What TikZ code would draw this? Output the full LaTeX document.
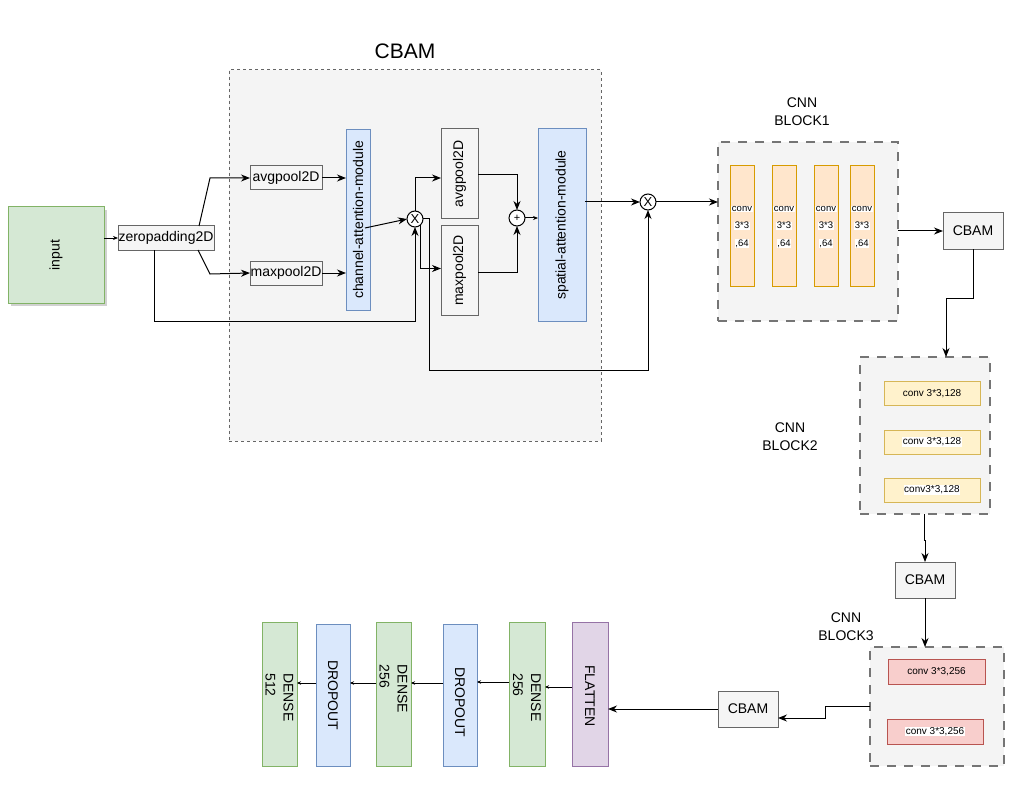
\documentclass[tikz,border=0pt]{standalone}
\usepackage{fontspec}
\setmainfont{Liberation Sans}
\usetikzlibrary{arrows.meta,calc,shadows}
\definecolor{gfill}{HTML}{D5E8D4}\definecolor{gline}{HTML}{82B366}
\definecolor{bfill}{HTML}{DAE8FC}\definecolor{bline}{HTML}{6C8EBF}
\definecolor{nfill}{HTML}{F5F5F5}\definecolor{nline}{HTML}{666666}
\definecolor{ofill}{HTML}{FFE6CC}\definecolor{oline}{HTML}{D79B00}
\definecolor{yfill}{HTML}{FFF2CC}\definecolor{yline}{HTML}{D6B656}
\definecolor{rfill}{HTML}{F8CECC}\definecolor{rline}{HTML}{B85450}
\definecolor{pfill}{HTML}{E1D5E7}\definecolor{pline}{HTML}{9673A6}
\definecolor{cfill}{HTML}{F4F4F4}
\newcommand{\wb}[1]{{\setlength{\fboxsep}{0.6pt}\colorbox{white}{#1}}}
\begin{document}
\begin{tikzpicture}[x=1pt,y=-1pt,
  every node/.style={inner sep=0pt,outer sep=0pt},
  gbox/.style={draw=nline,fill=nfill,line width=1pt},
  green/.style={draw=gline,fill=gfill,line width=1pt},
  blue/.style={draw=bline,fill=bfill,line width=1pt},
  orange/.style={draw=oline,fill=ofill,line width=1pt},
  yel/.style={draw=yline,fill=yfill,line width=1pt},
  red/.style={draw=rline,fill=rfill,line width=1pt},
  purple/.style={draw=pline,fill=pfill,line width=1pt},
  cont/.style={draw=nline,fill=cfill,line width=1pt,dash pattern=on 3pt off 3pt},
  bigcont/.style={draw=nline!90,fill=cfill,line width=1.3pt,dash pattern=on 9pt off 8pt},
  opcirc/.style={circle,draw,fill=white,line width=1pt,minimum size=16pt},
  lbl/.style={font=\fontsize{14}{16}\selectfont},
  big/.style={font=\fontsize{14}{18}\selectfont},
  edge/.style={line width=1pt,-{Stealth[length=9pt,width=7pt]}},
  sedge/.style={line width=1pt,-{Stealth[length=5pt,width=4pt]}},
  tedge/.style={line width=0.9pt,-{Stealth[length=4pt,width=3.5pt]}}]
\useasboundingbox (0,0) rectangle (1016,794);
% containers
\node[cont,minimum width=372pt,minimum height=371pt] (cbamc) at (415,255.5) {};
\node[font=\fontsize{21}{23}\selectfont] (cbamt) at (405,51) {CBAM};
\node[bigcont,minimum width=180pt,minimum height=179pt] (blk1) at (808,231.5) {};
\node[bigcont,minimum width=130pt,minimum height=157pt] (blk2) at (925,435.5) {};
\node[bigcont,minimum width=134pt,minimum height=119pt] (blk3) at (937,706.5) {};
\node[align=center,font=\fontsize{14}{18}\selectfont] (t1) at (802,112) {CNN\\BLOCK1};
\node[align=center,font=\fontsize{14}{18}\selectfont] (t2) at (790,437) {CNN\\BLOCK2};
\node[align=center,font=\fontsize{14}{18}\selectfont] (t3) at (846,627) {CNN\\BLOCK3};
% input part
\node[green,minimum width=96pt,minimum height=96pt,drop shadow={shadow xshift=3pt,shadow yshift=-3pt,fill=black!30,opacity=0.6}] (input) at (56,255) {};
\node[lbl,rotate=90] at (input) {input};
\node[gbox,minimum width=96pt,minimum height=24pt,lbl] (zp) at (166,238) {zeropadding2D};
\node[gbox,minimum width=72pt,minimum height=24pt,lbl] (avg1) at (286,178) {avgpool2D};
\node[gbox,minimum width=72pt,minimum height=24pt,lbl] (max1) at (286,273) {maxpool2D};
\node[blue,minimum width=24pt,minimum height=180pt] (cam) at (358,220) {};
\node[lbl,rotate=90] at (cam) {channel-attention-module};
\node[opcirc] (x1) at (415,219) {};
\node[font=\fontsize{13}{13}\selectfont] at (x1) {X};
\node[gbox,minimum width=37pt,minimum height=90pt] (avg2) at (459.5,174) {};
\node[lbl,rotate=90] at (avg2) {avgpool2D};
\node[gbox,minimum width=37pt,minimum height=89pt] (max2) at (459.5,270.5) {};
\node[lbl,rotate=90] at (max2) {maxpool2D};
\node[opcirc] (plus) at (517,218) {};
\node[font=\fontsize{11}{11}\selectfont] at (plus) {+};
\node[blue,minimum width=48pt,minimum height=192pt] (sam) at (562,225) {};
\node[lbl,rotate=90] at (sam) {spatial-attention-module};
\node[opcirc] (x2) at (648,202) {};
\node[font=\fontsize{13}{13}\selectfont] at (x2) {X};
% block 1
\foreach \n/\cx in {c1/742,c2/784,c3/826,c4/862}{
  \node[orange,minimum width=24pt,minimum height=120pt] (\n) at (\cx,226) {};
  \node[align=center,font=\fontsize{9.5}{17.5}\selectfont] at ([yshift=-1pt]\n.center) {\wb{conv}\\\wb{3*3}\\\wb{,64}};
}
\node[gbox,minimum width=60pt,minimum height=36pt,lbl] (cbam1) at (973,231) {CBAM};
% block 2
\node[yel,minimum width=96pt,minimum height=24pt,font=\fontsize{10}{12}\selectfont] (b2a) at (932,393.5) {conv 3*3,128};
\node[yel,minimum width=96pt,minimum height=24pt,font=\fontsize{10}{12}\selectfont] (b2b) at (932,442) {\wb{conv 3*3,128}};
\node[yel,minimum width=96pt,minimum height=24pt,font=\fontsize{10}{12}\selectfont] (b2c) at (932,490) {\wb{conv3*3,128}};
\node[gbox,minimum width=60pt,minimum height=36pt,lbl] (cbam2) at (925,580) {CBAM};
% block 3
\node[red,minimum width=97pt,minimum height=25pt,font=\fontsize{10}{12}\selectfont] (b3a) at (936.5,671.5) {conv 3*3,256};
\node[red,minimum width=96pt,minimum height=25pt,font=\fontsize{10}{12}\selectfont] (b3b) at (935,731.5) {\wb{conv 3*3,256}};
\node[gbox,minimum width=60pt,minimum height=36pt,lbl] (cbam3) at (748,709) {CBAM};
% dense chain
\node[purple,minimum width=36pt,minimum height=144pt] (flat) at (590,694) {};
\node[lbl,rotate=-90] at ([yshift=-2pt]flat.center) {FLATTEN};
\node[green,minimum width=36pt,minimum height=144pt] (d1) at (527,694) {};
\node[big,rotate=-90,align=left] at ([yshift=-3.5pt]d1.center) {DENSE\\256};
\node[blue,minimum width=34pt,minimum height=142pt] (do1) at (460,695) {};
\node[lbl,rotate=-90] at ([yshift=-7pt]do1.center) {DROPOUT};
\node[green,minimum width=35pt,minimum height=144pt] (d2) at (393.5,694) {};
\node[big,rotate=-90,align=left] at ([yshift=5pt]d2.center) {DENSE\\256};
\node[blue,minimum width=34pt,minimum height=142pt] (do2) at (333,695) {};
\node[lbl,rotate=-90] at (do2.center) {DROPOUT};
\node[green,minimum width=35pt,minimum height=144pt] (d3) at (279.5,694) {};
\node[big,rotate=-90,align=left] at ([yshift=-3.5pt]d3.center) {DENSE\\512};
% helper coordinates
\coordinate (ya) at (0,321);
\coordinate (jn) at (210,178);
\coordinate (jm) at (210,274);
% edges
\draw[sedge] (zp.west -| input.east) -- (zp.west);
\draw[edge] ([xshift=-15pt]zp.north east) -- (jn) -- (avg1.west);
\draw[edge] ([xshift=-16pt]zp.south east) -- (jm) -- (max1.west);
\draw[edge] (avg1.east) -- (cam.west |- avg1.east);
\draw[edge] (max1.east) -- (cam.west |- max1.east);
\draw[edge] ([xshift=7pt,yshift=-8pt]cam.center) -- (x1.west);
\draw[edge] ([xshift=-12pt]zp.south) |- (x1.south |- ya) -- (x1.south);
\draw[edge] (x1.north) |- ([yshift=-4pt]avg2.west);
\draw[edge] (x1.-50) |- ([yshift=2pt]max2.west);
\draw[edge] (x1.east) -- ++(6,0) -- ++(0,151) -| (x2.south);
\draw[edge] ([yshift=-1pt]avg2.east) -| (plus.north);
\draw[edge] ([yshift=-2pt]max2.east) -| (plus.south);
\draw[sedge] (plus.east) -- (sam.west |- plus.east);
\draw[edge] ([xshift=-1pt]sam.east |- x2.west) -- (x2.west);
\draw[edge] (x2.east) -- (blk1.west |- x2.east);
\draw[edge] (blk1.east |- cbam1.west) -- (cbam1.west);
\draw[edge] (cbam1.south) -- ++(0,49) -| ([xshift=21pt]blk2.north);
\draw[edge] ([xshift=-1pt]blk2.south) -- ++(0,26) -| (cbam2.north);
\draw[edge] (cbam2.south) -- (cbam2.south |- blk3.north);
\draw[edge] (blk3.west) -- ++(-45,0) |- ([yshift=-9pt]cbam3.east);
\draw[edge] (cbam3.west) -- (cbam3.west -| flat.east);
\draw[tedge] ([yshift=7pt]flat.west) -- ([yshift=7pt]flat.west -| d1.east);
\draw[tedge] ([yshift=12pt]d1.west) -- ([yshift=12pt]d1.west -| do1.east);
\draw[tedge] ([yshift=12pt]do1.west) -- ([yshift=12pt]do1.west -| d2.east);
\draw[tedge] ([yshift=11pt]d2.west) -- ([yshift=11pt]d2.west -| do2.east);
\draw[tedge] ([yshift=12pt]do2.west) -- ([yshift=12pt]do2.west -| d3.east);
\end{tikzpicture}
\end{document}
